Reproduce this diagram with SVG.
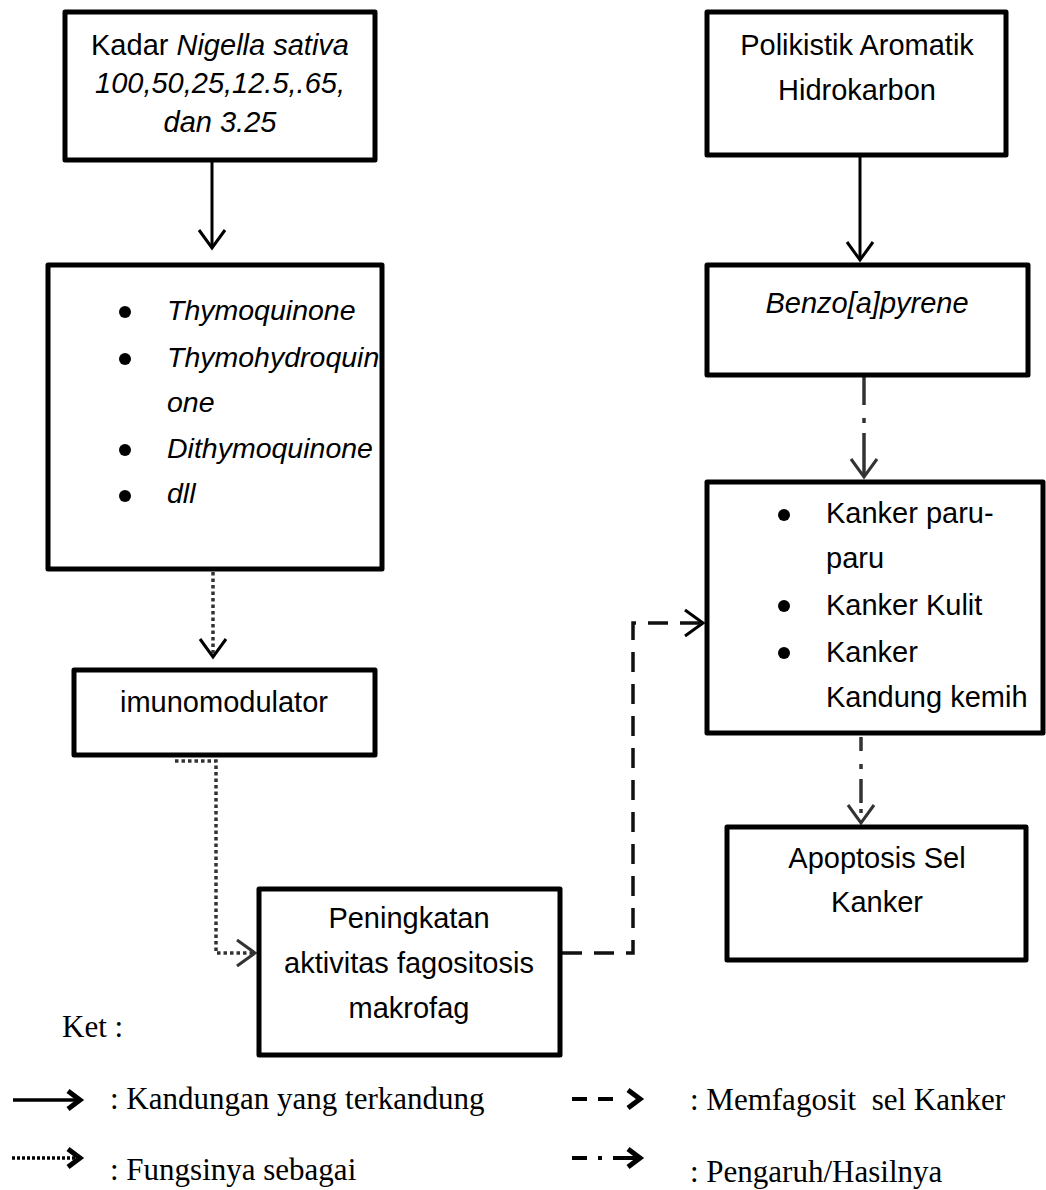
<svg xmlns="http://www.w3.org/2000/svg" width="1046" height="1190" viewBox="0 0 1046 1190">
<defs>
<style>
.box{fill:#fff;stroke:#000;stroke-width:5;stroke-linejoin:round}
.t{font-family:"Liberation Sans",Arial,sans-serif;font-size:29px;fill:#000}
.c{text-anchor:middle}
.i{font-style:italic}
.s{font-size:28.5px}
.lg{font-family:"Liberation Serif","Times New Roman",serif;font-size:31px;fill:#000}
.solid{fill:none;stroke:#000;stroke-width:3}
.dot{fill:none;stroke:#333;stroke-width:3.5;stroke-dasharray:3.5 3}
.dash{fill:none;stroke:#111;stroke-width:3.5;stroke-dasharray:20 12}
.dd{fill:none;stroke:#333;stroke-width:3.5}
</style>
<marker id="ah" markerUnits="userSpaceOnUse" markerWidth="24" markerHeight="30" refX="20" refY="14" orient="auto" overflow="visible">
<path d="M2,1 L20,14 L2,27" fill="none" stroke="#000" stroke-width="3"/>
</marker>
<marker id="ahg" markerUnits="userSpaceOnUse" markerWidth="24" markerHeight="30" refX="20" refY="14" orient="auto" overflow="visible">
<path d="M2,1 L20,14 L2,27" fill="none" stroke="#333" stroke-width="3"/>
</marker>
<marker id="ch" markerUnits="userSpaceOnUse" markerWidth="20" markerHeight="24" refX="14" refY="11" orient="auto" overflow="visible">
<path d="M2,2 L14,11 L2,20" fill="none" stroke="#000" stroke-width="5"/>
</marker>
</defs>
<rect width="1046" height="1190" fill="#fff"/>

<g id="connectors">
<path class="solid" d="M212,162 V248" marker-end="url(#ah)"/>
<path class="solid" d="M860,157 V260" marker-end="url(#ah)"/>
<path class="dd" d="M864,377 V477" stroke-dasharray="28 13 5 10 100" marker-end="url(#ahg)"/>
<path class="dot" d="M213,572 V657" marker-end="url(#ah)"/>
<path class="dot" d="M175,761 H216 V953 H255" marker-end="url(#ahg)"/>
<path class="dash" d="M562,953 H633 V623 H703" marker-end="url(#ah)"/>
<path class="dd" d="M861,737 V823" stroke-dasharray="14 13 5 10 24 6 4 100" marker-end="url(#ahg)"/>
</g>

<g id="n-kadar">
<rect class="box" x="65" y="12" width="310" height="148"/>
<text class="t c" x="220" y="55">Kadar <tspan class="i">Nigella sativa</tspan></text>
<text class="t c i" x="220" y="93">100,50,25,12.5,.65,</text>
<text class="t c i" x="220" y="132">dan 3.25</text>
</g>

<g id="n-senyawa">
<rect class="box" x="48" y="265" width="334" height="304"/>
<circle cx="125" cy="312" r="6"/>
<circle cx="125" cy="359" r="6"/>
<circle cx="125" cy="450" r="6"/>
<circle cx="125" cy="496" r="6"/>
<text class="t i s" x="167" y="320">Thymoquinone</text>
<text class="t i s" x="167" y="367">Thymohydroquin</text>
<text class="t i s" x="167" y="412">one</text>
<text class="t i s" x="167" y="458">Dithymoquinone</text>
<text class="t i s" x="167" y="503">dll</text>
</g>

<g id="n-imuno">
<rect class="box" x="74" y="670" width="301" height="85"/>
<text class="t c" x="224" y="712">imunomodulator</text>
</g>

<g id="n-fagosit">
<rect class="box" x="259" y="889" width="301" height="166"/>
<text class="t c" x="409" y="928">Peningkatan</text>
<text class="t c" x="409" y="973">aktivitas fagositosis</text>
<text class="t c" x="409" y="1018">makrofag</text>
</g>

<g id="n-pah">
<rect class="box" x="707" y="12" width="299" height="143"/>
<text class="t c" x="857" y="55">Polikistik Aromatik</text>
<text class="t c" x="857" y="100">Hidrokarbon</text>
</g>

<g id="n-benzo">
<rect class="box" x="707" y="265" width="321" height="110"/>
<text class="t c i" x="867" y="313">Benzo[a]pyrene</text>
</g>

<g id="n-kanker">
<rect class="box" x="707" y="482" width="336" height="251"/>
<circle cx="784" cy="515" r="6"/>
<circle cx="784" cy="606" r="6"/>
<circle cx="784" cy="653" r="6"/>
<text class="t" x="826" y="523">Kanker paru-</text>
<text class="t" x="826" y="568">paru</text>
<text class="t" x="826" y="615">Kanker Kulit</text>
<text class="t" x="826" y="662">Kanker</text>
<text class="t" x="826" y="707">Kandung kemih</text>
</g>

<g id="n-apoptosis">
<rect class="box" x="727" y="827" width="299" height="133"/>
<text class="t c" x="877" y="868">Apoptosis Sel</text>
<text class="t c" x="877" y="912">Kanker</text>
</g>

<g id="legend">
<text class="lg" x="62" y="1037">Ket :</text>
<path d="M13,1100 H80" fill="none" stroke="#000" stroke-width="3.5" marker-end="url(#ch)"/>
<text class="lg" x="110" y="1109">: Kandungan yang terkandung</text>
<path d="M12,1158 H80" fill="none" stroke="#000" stroke-width="3.5" stroke-dasharray="3 2" marker-end="url(#ch)"/>
<text class="lg" x="110" y="1180">: Fungsinya sebagai</text>
<path d="M572,1099 H640" fill="none" stroke="#000" stroke-width="4" stroke-dasharray="15 11 15 100" marker-end="url(#ch)"/>
<text class="lg" x="690" y="1110" xml:space="preserve">: Memfagosit  sel Kanker</text>
<path d="M572,1158 H640" fill="none" stroke="#000" stroke-width="4" stroke-dasharray="15 11 4 11 100" marker-end="url(#ch)"/>
<text class="lg" x="690" y="1182">: Pengaruh/Hasilnya</text>
</g>
</svg>
